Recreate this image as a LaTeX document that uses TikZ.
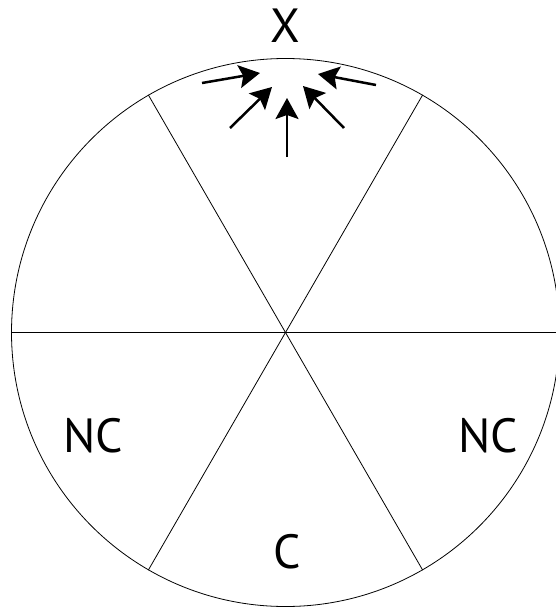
\documentclass[tikz,border=0pt]{standalone}
\usepackage{fontspec}
\setmainfont{PT Sans}
\usetikzlibrary{arrows.meta}

\begin{document}
\begin{tikzpicture}[
        x=1pt, y=-1pt,
        line width=0.8pt,
        push/.style={line width=2.5pt, -{Stealth[length=21pt, width=23pt, inset=4pt]}},
        zone/.style={anchor=base, inner sep=0pt, font=\fontsize{48}{48}\selectfont}
    ]
    \useasboundingbox (0,0) rectangle (556,608);
    \clip (0,0) rectangle (556,608);

    % The wheel and its six sectors
    \node[circle, draw, minimum size=548pt, inner sep=0pt] (wheel) at (285.5,332.5) {};
    \coordinate (o) at (wheel.center);
    \foreach \a in {0,60,...,300}
        \draw (o) -- (wheel.\a);

    % Labels
    \node[zone] (x) at (285,42) {X};
    \node[zone] (ncl) at (93.5,452) {NC};
    \node[zone] (ncr) at (488.5,452) {NC};
    \node[zone] (c) at (287.5,568) {C};

    % Arrows pushing on the top
    \coordinate (t1) at (202,83);   \coordinate (h1) at (260,73);
    \coordinate (t2) at (230,128);  \coordinate (h2) at (272,87);
    \coordinate (t3) at (287,157);  \coordinate (h3) at (287,98);
    \coordinate (t4) at (344,128);  \coordinate (h4) at (303,86);
    \coordinate (t5) at (376,85);   \coordinate (h5) at (318,74);
    \foreach \i in {1,...,5}
        \draw[push] (t\i) -- (h\i);

\end{tikzpicture}
\end{document}
